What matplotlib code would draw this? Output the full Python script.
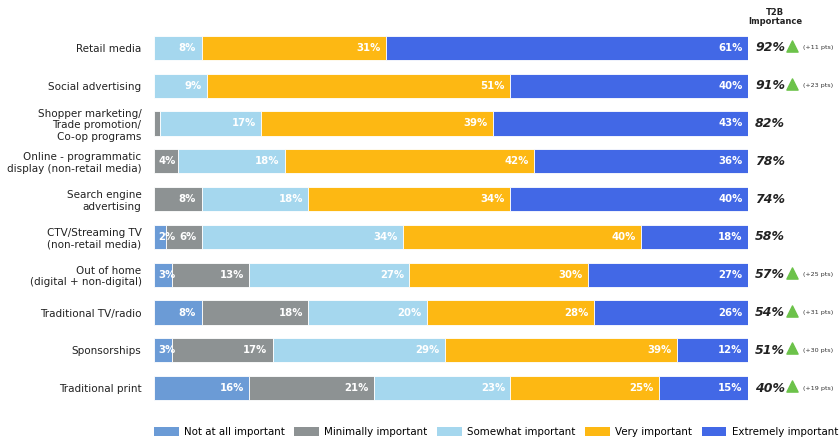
import numpy as np
import matplotlib.pyplot as plt
from matplotlib.patches import Patch

categories = ['Retail media', 'Social advertising',
              'Shopper marketing/\nTrade promotion/\nCo-op programs',
              'Online - programmatic\ndisplay (non-retail media)',
              'Search engine\nadvertising',
              'CTV/Streaming TV\n(non-retail media)',
              'Out of home\n(digital + non-digital)',
              'Traditional TV/radio', 'Sponsorships', 'Traditional print']
levels = ['Not at all important', 'Minimally important', 'Somewhat important',
          'Very important', 'Extremely important']
not_at_all = [0, 0, 0, 0, 0, 2, 3, 8, 3, 16]
minimally = [0, 0, 1, 4, 8, 6, 13, 18, 17, 21]
somewhat = [8, 9, 17, 18, 18, 34, 27, 20, 29, 23]
very = [31, 51, 39, 42, 34, 40, 30, 28, 39, 25]
extremely = [61, 40, 43, 36, 40, 18, 27, 26, 12, 15]
t2b = ['92%', '91%', '82%', '78%', '74%', '58%', '57%', '54%', '51%', '40%']
pts = ['(+11 pts)', '(+23 pts)', '', '', '', '', '(+25 pts)', '(+31 pts)', '(+30 pts)', '(+19 pts)']

colors = ['#6b9bd6', '#8d9293', '#a5d7ee', '#fdb813', '#4268e6']
series = [not_at_all, minimally, somewhat, very, extremely]

plt.rcParams['font.family'] = ['DejaVu Sans']

fig = plt.figure(figsize=(8.4, 4.38), dpi=100)
ax = fig.add_axes([154 / 840, 1 - 407 / 438, (748 - 154) / 840, 378 / 438])

y = np.arange(len(categories))
left = np.zeros(len(categories))
for vals, col in zip(series, colors):
    vals = np.array(vals)
    ax.barh(y, vals, left=left, height=0.64, color=col, edgecolor='white', linewidth=0.6)
    for i, v in enumerate(vals):
        if v < 2:
            continue
        # small segments at the start: label starts inside the segment
        if v <= 4 and left[i] == 0:
            ax.text(left[i] + 0.7, y[i], f'{v}%', ha='left', va='center',
                    color='white', fontsize=7.3, fontweight='bold')
        else:
            ax.text(left[i] + v - 0.9, y[i], f'{v}%', ha='right', va='center',
                    color='white', fontsize=7.3, fontweight='bold')
    left += vals

for i in range(len(categories)):
    ax.text(101.2, y[i], t2b[i], ha='left', va='center', fontsize=9,
            fontweight='bold', fontstyle='italic', color='#222222', clip_on=False)
    if pts[i]:
        ax.scatter([107.4], [y[i] - 0.05], marker='^', s=65, color='#6cc24a', clip_on=False)
        ax.text(109.2, y[i], pts[i], ha='left', va='center', fontsize=4.6,
                color='#333333', clip_on=False)

ax.text(104.6, -0.82, 'T2B\nImportance', ha='center', va='center', fontsize=6,
        fontweight='bold', color='#222222', clip_on=False, linespacing=1.0)

ax.set_xlim(0, 100)
ax.set_ylim(len(categories) - 0.5, -0.5)
ax.set_yticks(y)
ax.set_yticklabels(categories, fontsize=7.5, color='#222222')
ax.tick_params(axis='y', length=0, pad=9)
ax.set_xticks([])
for s in ax.spines.values():
    s.set_visible(False)

handles = [Patch(facecolor=c, edgecolor='none') for c in colors]
fig.legend(handles, levels, loc='center left', bbox_to_anchor=(154 / 840, 0.014), ncol=5,
           frameon=False, fontsize=7.4, handlelength=2.4, handleheight=1.0,
           columnspacing=0.95, handletextpad=0.5, borderaxespad=0, borderpad=0)

fig.savefig('out.png', dpi=100)
